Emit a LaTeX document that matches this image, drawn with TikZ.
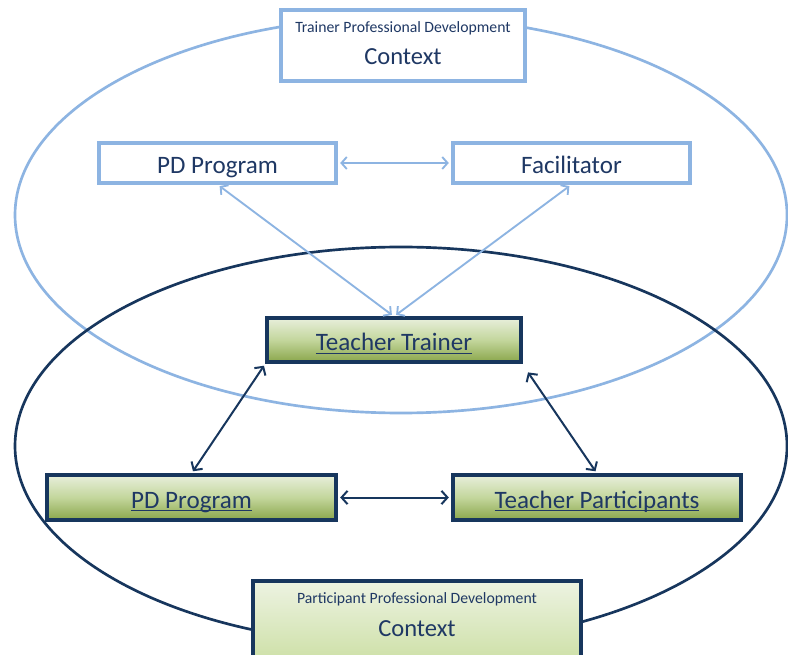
\documentclass[tikz,border=0pt]{standalone}
\usepackage{fontspec}
\setmainfont{Carlito}
\usetikzlibrary{arrows.meta,shadows}
\definecolor{lblue}{HTML}{8DB4E2}
\definecolor{navy}{HTML}{17365D}
\definecolor{txt}{HTML}{1F3864}
\definecolor{gtop}{HTML}{E8EFDC}
\definecolor{gmid}{HTML}{C3D69C}
\definecolor{gbot}{HTML}{8AA64B}
\definecolor{ctop}{HTML}{EDF3E2}
\definecolor{cbot}{HTML}{CFE1AA}
\newcommand\myul[1]{\setbox0\hbox{#1}\rlap{\rule[-2.4pt]{\wd0}{0.8pt}}\box0}
\tikzset{
  lbox/.style={draw=lblue, line width=2.3pt, fill=white, inner sep=0pt,
    drop shadow={opacity=0.25, shadow xshift=1.2pt, shadow yshift=-1.2pt}},
  gbox/.style={draw=navy, line width=2.3pt, inner sep=0pt, top color=gtop, bottom color=gbot, middle color=gmid,
    drop shadow={opacity=0.35, shadow xshift=1.5pt, shadow yshift=-1.5pt}},
  cbox/.style={draw=navy, line width=2.3pt, inner sep=0pt, top color=ctop, bottom color=cbot},
  lbl/.style={text=txt, font=\fontsize{18.8}{22}\selectfont, text height=20pt, text depth=4pt},
  small/.style={text=txt, font=\fontsize{11.8}{14}\selectfont},
  ctx/.style={text=txt, font=\fontsize{18.4}{22}\selectfont},
  larrow/.style={draw=lblue, line width=1.4pt, {Straight Barb[length=4pt,width=9pt]}-{Straight Barb[length=4pt,width=9pt]}, shorten <=2pt, shorten >=2pt},
  darrow/.style={draw=navy, line width=1.5pt, {Straight Barb[length=4.5pt,width=10pt]}-{Straight Barb[length=4.5pt,width=10pt]}, shorten <=2pt, shorten >=2pt}
}
\begin{document}
\begin{tikzpicture}[x=0.75pt,y=-0.75pt]
\useasboundingbox (0,0) rectangle (788,655);
\fill[white] (0,0) rectangle (788,655);
% ellipses
\draw[lblue, line width=2pt] (401,215) ellipse [x radius=386, y radius=198];
\draw[navy, line width=2pt] (401,446) ellipse [x radius=386, y radius=199];
% top context
\node[lbox, minimum width=183pt, minimum height=53.25pt] (topctx) at (403,45.5) {};
\node[small] (topctxa) at (403,28) {Trainer Professional Development};
\node[ctx] (topctxb) at (403,57) {Context};
% upper boxes
\node[lbox, minimum width=177.75pt, minimum height=30pt, lbl] (pd1) at (217.5,163) {PD Program};
\node[lbox, minimum width=177.75pt, minimum height=30pt, lbl] (fac) at (571.5,163) {Facilitator};
% green boxes
\node[gbox, minimum width=190.5pt, minimum height=33pt, lbl] (tt) at (394,340) {\myul{Teacher Trainer}};
\node[gbox, minimum width=216.75pt, minimum height=33.75pt, lbl] (pd2) at (191.5,497.5) {\myul{PD Program}};
\node[gbox, minimum width=216pt, minimum height=33.75pt, lbl] (tp) at (597,497.5) {\myul{Teacher Participants}};
% bottom context
\node[cbox, minimum width=246pt, minimum height=57pt] (botctx) at (417,619) {};
\node[small] (botctxa) at (417,599) {Participant Professional Development};
\node[ctx] (botctxb) at (417,629) {Context};
% arrows
\draw[larrow] (pd1.east) -- (fac.west);
\draw[larrow] (pd1.south) -- (tt.north);
\draw[larrow] (fac.south) -- (tt.north);
\draw[darrow] (tt.south west) -- (pd2.north);
\draw[darrow] ([xshift=3pt,yshift=-5pt]tt.south east) -- (tp.north);
\draw[darrow] (pd2.east) -- (tp.west);
\end{tikzpicture}
\end{document}
